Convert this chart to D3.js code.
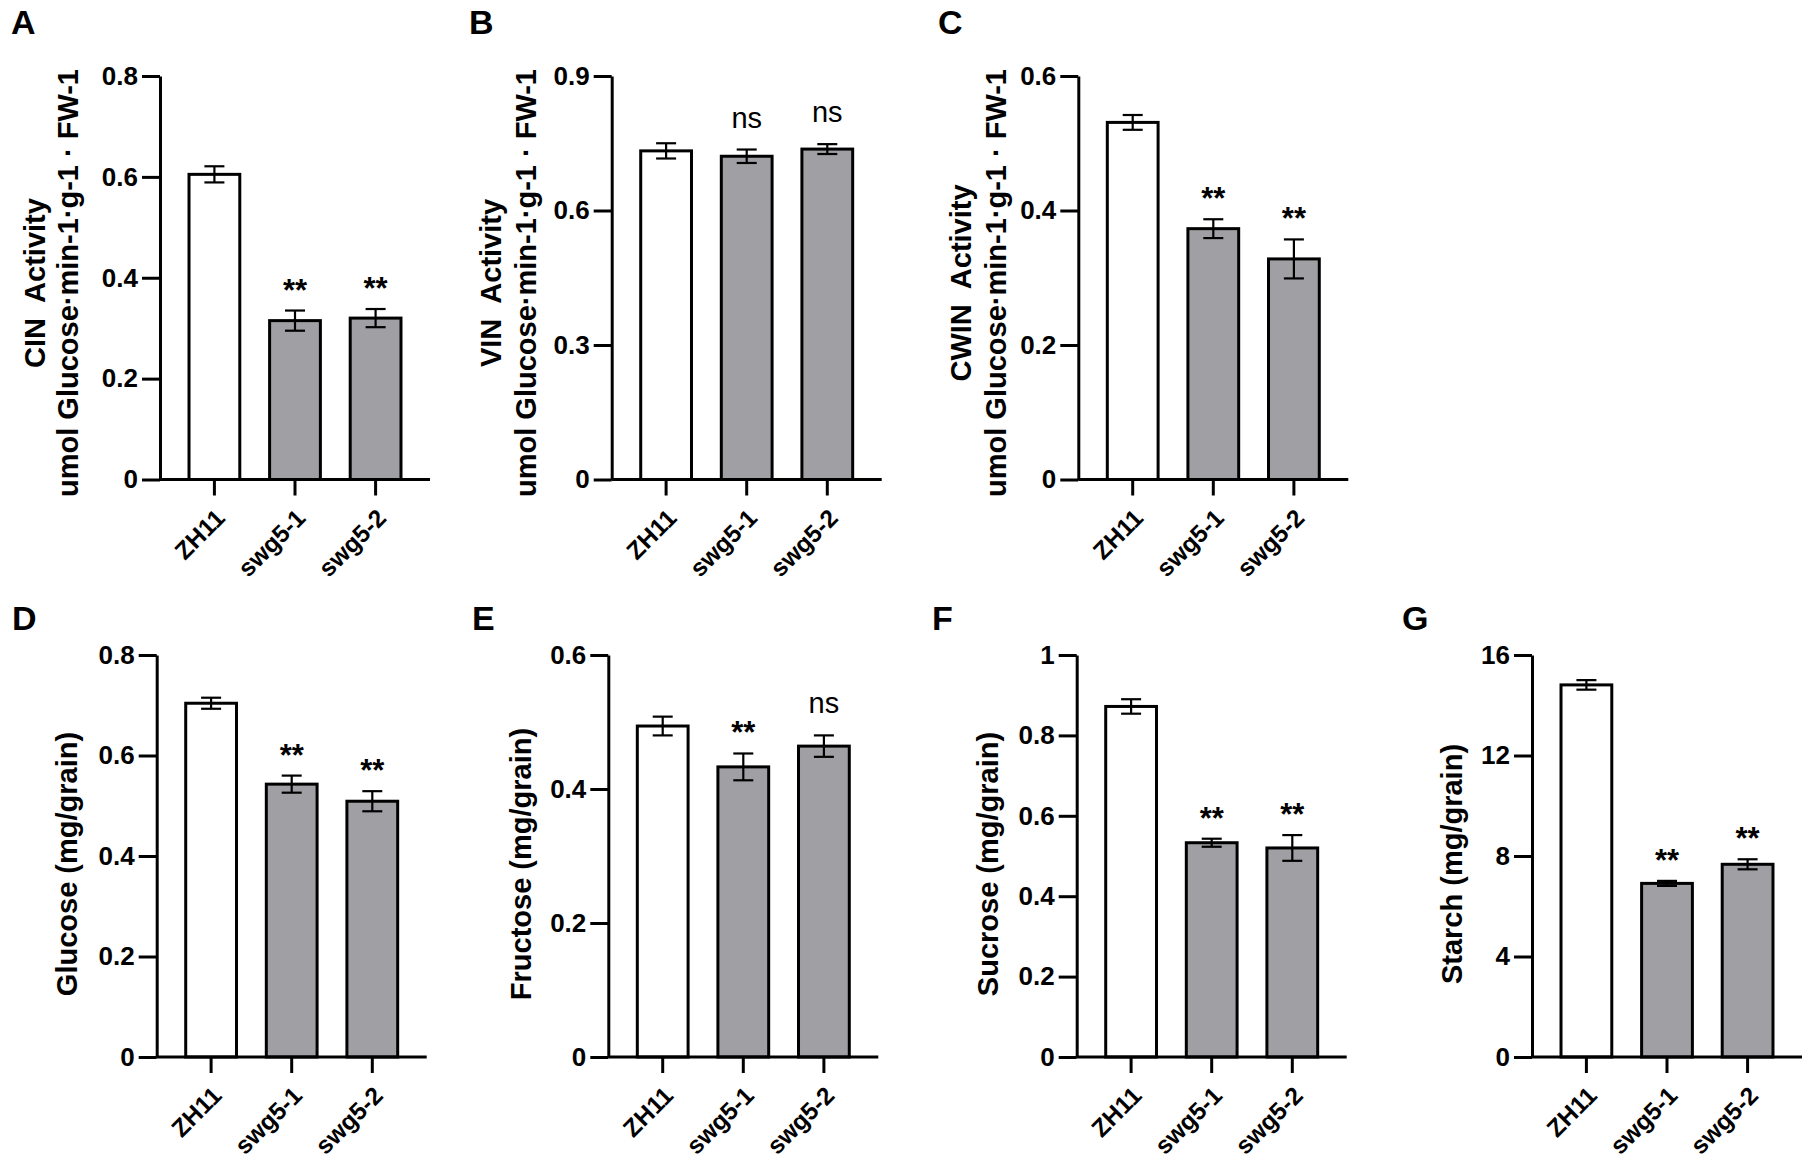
<!DOCTYPE html>
<html>
<head>
<meta charset="utf-8">
<script src="https://cdn.jsdelivr.net/npm/d3@7"></script>
<style>
  body { margin: 0; background: #fff; }
  text { font-family: Arial, "Liberation Sans", sans-serif; fill: #000; }
</style>
</head>
<body>
<script>
// groups on every x axis
const groups = ["ZH11", "swg5-1", "swg5-2"];

// A - CIN activity
const cinMean = [0.605, 0.315, 0.320];
const cinErr  = [0.016, 0.020, 0.018];
const cinSig  = ["", "**", "**"];
const cinTicks = [0, 0.2, 0.4, 0.6, 0.8];

// B - VIN activity
const vinMean = [0.733, 0.721, 0.737];
const vinErr  = [0.017, 0.015, 0.011];
const vinSig  = ["", "ns", "ns"];
const vinTicks = [0, 0.3, 0.6, 0.9];

// C - CWIN activity
const cwinMean = [0.531, 0.373, 0.328];
const cwinErr  = [0.011, 0.014, 0.029];
const cwinSig  = ["", "**", "**"];
const cwinTicks = [0, 0.2, 0.4, 0.6];

// D - glucose
const gluMean = [0.704, 0.543, 0.509];
const gluErr  = [0.011, 0.017, 0.020];
const gluSig  = ["", "**", "**"];
const gluTicks = [0, 0.2, 0.4, 0.6, 0.8];

// E - fructose
const fruMean = [0.494, 0.433, 0.464];
const fruErr  = [0.014, 0.020, 0.016];
const fruSig  = ["", "**", "ns"];
const fruTicks = [0, 0.2, 0.4, 0.6];

// F - sucrose
const sucMean = [0.872, 0.533, 0.520];
const sucErr  = [0.018, 0.010, 0.032];
const sucSig  = ["", "**", "**"];
const sucTicks = [0, 0.2, 0.4, 0.6, 0.8, 1];

// G - starch
const staMean = [14.81, 6.91, 7.67];
const staErr  = [0.19, 0.10, 0.20];
const staSig  = ["", "**", "**"];
const staTicks = [0, 4, 8, 12, 16];

const activityUnit = "umol Glucose\u00b7min-1\u00b7g-1 \u00b7 FW-1";

// layout of the two rows (y of top tick and of zero line)
const rows = [
  {top: 76, bottom: 479.5, titleMid: 283, letterY: 34},
  {top: 655, bottom: 1057, titleMid: 864, letterY: 630}
];

const panels = [
  {letter: "A", lx: 11, x0: 160, row: 0, mean: cinMean, err: cinErr, sig: cinSig, ticks: cinTicks,
   title: ["CIN  Activity", activityUnit], tx: [-115, -82]},
  {letter: "B", lx: 469, x0: 611.7, row: 0, mean: vinMean, err: vinErr, sig: vinSig, ticks: vinTicks,
   title: ["VIN  Activity", activityUnit], tx: [-111, -76]},
  {letter: "C", lx: 938, x0: 1078.3, row: 0, mean: cwinMean, err: cwinErr, sig: cwinSig, ticks: cwinTicks,
   title: ["CWIN  Activity", activityUnit], tx: [-107, -72]},
  {letter: "D", lx: 12, x0: 156.7, row: 1, mean: gluMean, err: gluErr, sig: gluSig, ticks: gluTicks,
   title: ["Glucose (mg/grain)"], tx: [-80]},
  {letter: "E", lx: 472, x0: 608.3, row: 1, mean: fruMean, err: fruErr, sig: fruSig, ticks: fruTicks,
   title: ["Fructose (mg/grain)"], tx: [-77]},
  {letter: "F", lx: 932, x0: 1076.7, row: 1, mean: sucMean, err: sucErr, sig: sucSig, ticks: sucTicks,
   title: ["Sucrose (mg/grain)"], tx: [-79]},
  {letter: "G", lx: 1402, x0: 1532, row: 1, mean: staMean, err: staErr, sig: staSig, ticks: staTicks,
   title: ["Starch (mg/grain)"], tx: [-70]}
];

const barFill = ["#ffffff", "#a0a0a4", "#a0a0a4"];

const svg = d3.select("body").append("svg")
  .attr("width", 1804)
  .attr("height", 1161);

panels.forEach(drawPanel);

function fmt(d) {
  return String(Math.round(d * 10) / 10);
}

function drawPanel(p) {
  const r = rows[p.row];
  const x = d3.scaleBand()
    .domain(groups)
    .range([p.x0, p.x0 + 270])
    .paddingInner(0.37)
    .paddingOuter(0.36);
  const y = d3.scaleLinear()
    .domain([0, d3.max(p.ticks)])
    .range([r.bottom, r.top]);

  const g = svg.append("g");
  const data = groups.map((k, i) => ({k: k, m: p.mean[i], e: p.err[i], s: p.sig[i], i: i}));

  // panel letter
  g.append("text")
    .attr("x", p.lx)
    .attr("y", r.letterY)
    .attr("font-size", 34)
    .attr("font-weight", "bold")
    .text(p.letter);

  // bars
  g.selectAll("rect.bar")
    .data(data)
    .enter()
    .append("rect")
    .attr("class", "bar")
    .attr("x", d => x(d.k))
    .attr("width", x.bandwidth())
    .attr("y", d => y(d.m))
    .attr("height", d => y(0) - y(d.m))
    .attr("fill", d => barFill[d.i])
    .attr("stroke", "#000")
    .attr("stroke-width", 3);

  // error bars
  const cx = d => x(d.k) + x.bandwidth() / 2;
  const eb = g.selectAll("g.err")
    .data(data)
    .enter()
    .append("g")
    .attr("class", "err")
    .attr("stroke", "#000")
    .attr("stroke-width", 2.2);
  eb.append("line")
    .attr("x1", cx).attr("x2", cx)
    .attr("y1", d => y(d.m + d.e)).attr("y2", d => y(d.m - d.e));
  eb.append("line")
    .attr("x1", d => cx(d) - 10).attr("x2", d => cx(d) + 10)
    .attr("y1", d => y(d.m + d.e)).attr("y2", d => y(d.m + d.e));
  eb.append("line")
    .attr("x1", d => cx(d) - 10).attr("x2", d => cx(d) + 10)
    .attr("y1", d => y(d.m - d.e)).attr("y2", d => y(d.m - d.e));

  // significance marks
  g.selectAll("text.sig")
    .data(data.filter(d => d.s))
    .enter()
    .append("text")
    .attr("class", "sig")
    .attr("x", cx)
    .attr("y", d => y(d.m + d.e) - (d.s === "ns" ? 22 : 10))
    .attr("text-anchor", "middle")
    .attr("font-size", d => d.s === "ns" ? 29 : 31)
    .attr("font-weight", d => d.s === "ns" ? "normal" : "bold")
    .text(d => d.s);

  // y axis
  const ya = g.append("g")
    .attr("transform", `translate(${p.x0},0)`)
    .call(d3.axisLeft(y).tickValues(p.ticks).tickSize(18).tickPadding(4).tickSizeOuter(0).tickFormat(fmt));
  ya.selectAll("path, line").attr("stroke", "#000").attr("stroke-width", 3);
  ya.selectAll("text")
    .attr("font-size", 26)
    .attr("font-weight", "bold")
    .attr("fill", "#000");

  // x axis
  const xa = g.append("g")
    .attr("transform", `translate(0,${r.bottom})`)
    .call(d3.axisBottom(x).tickSize(16).tickSizeOuter(0));
  xa.selectAll("path, line").attr("stroke", "#000").attr("stroke-width", 3);
  xa.selectAll("text")
    .attr("y", 0)
    .attr("dy", 0)
    .attr("text-anchor", "end")
    .attr("transform", "translate(12,40) rotate(-45)")
    .attr("font-size", 24.5)
    .attr("font-weight", "bold")
    .attr("fill", "#000");
  xa.select(".domain").attr("d", `M${p.x0},0H${p.x0 + 270}`);

  // y title
  const mid = r.titleMid;
  p.title.forEach((t, i) => {
    g.append("text")
      .attr("transform", `translate(${p.x0 + p.tx[i]},${mid}) rotate(-90)`)
      .attr("text-anchor", "middle")
      .attr("font-size", 29)
      .attr("font-weight", "bold")
      .style("white-space", "pre")
      .text(t);
  });
}
</script>
</body>
</html>
